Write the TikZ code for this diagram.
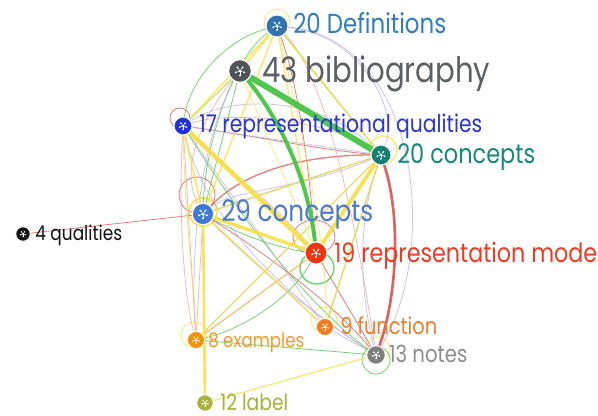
\documentclass[tikz,border=0pt]{standalone}
\usepackage{fontspec}
\usepackage{graphicx}
\setmainfont{Poppins}
\definecolor{ey}{HTML}{F8E04A}
\definecolor{eg}{HTML}{45C545}
\definecolor{er}{HTML}{D9534F}
\definecolor{ep}{HTML}{BFAEDD}
\definecolor{epk}{HTML}{E9A3A3}
\definecolor{cD}{HTML}{2F7DBF}
\definecolor{cB}{HTML}{5B6065}
\definecolor{cQa}{HTML}{2A35D8}
\definecolor{cCa}{HTML}{16887A}
\definecolor{cCb}{HTML}{4A7BD0}
\definecolor{cQb}{HTML}{111111}
\definecolor{cM}{HTML}{EE3B22}
\definecolor{cF}{HTML}{F07E2A}
\definecolor{cE}{HTML}{F39B2A}
\definecolor{cN}{HTML}{8C8C8C}
\definecolor{cL}{HTML}{A9B136}
\definecolor{nD}{HTML}{2E72B0}
\definecolor{nB}{HTML}{4E5357}
\definecolor{nQa}{HTML}{1F30E0}
\definecolor{nCa}{HTML}{138073}
\definecolor{nCb}{HTML}{3F79D2}
\definecolor{nQb}{HTML}{151515}
\definecolor{nM}{HTML}{F2330F}
\definecolor{nF}{HTML}{F57C18}
\definecolor{nE}{HTML}{F5900A}
\definecolor{nN}{HTML}{7F7F7F}
\definecolor{nL}{HTML}{A9B23A}
\newcommand{\lab}[2]{\scalebox{1}[1.2]{\resizebox{#1pt}{!}{#2}}}
\tikzset{
  vtx/.style={circle, draw=white, line width=0.8pt, inner sep=0pt},
  lbl/.style={anchor=base west, inner sep=0pt},
  thin edge/.style={line width=0.6pt, opacity=0.75},
  loopline/.style={line width=0.6pt, opacity=0.8},
  hub/.pic={
    \fill[white] (0,0) circle (1.2);
    \foreach \a in {90,162,234,306,18}{
      \draw[white, line width=0.4pt] (0,0) -- (\a:3.9);
      \fill[white] (\a:3.9) circle (0.95);
    }
  }
}
\begin{document}
\begin{tikzpicture}[x=0.75pt,y=-0.75pt]
\fill[white] (0,0) rectangle (598,416);
\useasboundingbox (0,0) rectangle (598,416);
% node positions
\coordinate (pD) at (277,26);
\coordinate (pB) at (240,71);
\coordinate (pQa) at (183,126);
\coordinate (pCa) at (381,155);
\coordinate (pCb) at (203,214);
\coordinate (pQb) at (23,234);
\coordinate (pM) at (316,253);
\coordinate (pF) at (325,327);
\coordinate (pE) at (196,340);
\coordinate (pN) at (376,355);
\coordinate (pL) at (205,403);
% nodes (drawn first for names, redrawn on top later)
\node[vtx, minimum size=16.5pt] (D) at (pD) {};
\node[vtx, minimum size=17pt] (B) at (pB) {};
\node[vtx, minimum size=13.5pt] (Qa) at (pQa) {};
\node[vtx, minimum size=15pt] (Ca) at (pCa) {};
\node[vtx, minimum size=16pt] (Cb) at (pCb) {};
\node[vtx, minimum size=11pt] (Qb) at (pQb) {};
\node[vtx, minimum size=16.5pt] (M) at (pM) {};
\node[vtx, minimum size=13pt] (F) at (pF) {};
\node[vtx, minimum size=13pt] (E) at (pE) {};
\node[vtx, minimum size=14pt] (N) at (pN) {};
\node[vtx, minimum size=12.5pt] (L) at (pL) {};
% self loops
\draw[loopline, ey] (277,22) circle (13);
\draw[loopline, er] (180,118) circle (10);
\draw[loopline, er] (197,195) circle (18);
\draw[line width=1.6pt, ey, opacity=0.8] (203,212) circle (14);
\draw[loopline, ey, line width=1pt] (383,150) circle (14);
\draw[loopline, er] (314,237) ellipse (21 and 17);
\draw[loopline, eg, line width=1pt] (317,268) ellipse (17 and 16);
\draw[loopline, ey] (194,335) circle (13);
\draw[loopline, ey] (324,320) circle (13);
\draw[loopline, ey] (378,349) circle (12);
\draw[loopline, eg] (376,360) circle (14);
% thin edges: green
\draw[thin edge, eg] (D) .. controls (225,40) and (190,80) .. (Qa);
\draw[thin edge, eg] (D) .. controls (230,60) and (205,150) .. (Cb);
\draw[thin edge, eg] (B) -- (Cb);
\draw[thin edge, eg] (B) -- (Qa);
\draw[thin edge, eg] (Qa) -- (M);
\draw[thin edge, eg] (Qa) .. controls (230,200) and (300,300) .. (N);
\draw[thin edge, eg] (M) .. controls (290,300) and (240,330) .. (E);
\draw[thin edge, eg] (E) -- (N);
\draw[thin edge, eg] (Ca) -- (Cb);
\draw[thin edge, eg] (D) -- (Ca);
\draw[thin edge, eg] (Ca) -- (F);
\draw[thin edge, eg] (Cb) .. controls (250,240) and (290,250) .. (M);
% thin edges: red
\draw[thin edge, er] (Qb) -- (Cb);
\draw[thin edge, er] (Qa) .. controls (250,135) and (320,150) .. (Ca);
\draw[thin edge, er, line width=1pt] (Cb) .. controls (250,165) and (320,155) .. (Ca);
\draw[thin edge, epk] (Qa) -- (E);
\draw[thin edge, epk] (Qa) .. controls (178,220) and (185,300) .. (E);
\draw[thin edge, epk] (Cb) -- (E);
\draw[thin edge, er] (E) -- (M);
\draw[thin edge, er] (M) -- (N);
\draw[thin edge, er] (D) .. controls (300,90) and (310,180) .. (M);
\draw[thin edge, epk] (D) .. controls (330,80) and (360,250) .. (N);
\draw[thin edge, epk] (Qa) .. controls (240,180) and (280,210) .. (M);
\draw[thin edge, er] (Cb) .. controls (260,250) and (330,300) .. (N);
\draw[thin edge, epk] (Qa) .. controls (230,110) and (330,120) .. (Ca);
\draw[thin edge, epk] (B) .. controls (200,120) and (180,170) .. (Cb);
% thin edges: purple
\draw[thin edge, ep] (D) .. controls (360,35) and (400,110) .. (Ca);
\draw[thin edge, ep] (D) .. controls (420,40) and (440,250) .. (N);
\draw[thin edge, ep] (Cb) .. controls (260,270) and (320,320) .. (N);
\draw[thin edge, ep] (F) -- (N);
\draw[thin edge, ep] (Ca) .. controls (355,230) and (362,300) .. (N);
\draw[thin edge, ep] (Ca) -- (Cb);
\draw[thin edge, ep] (Ca) .. controls (300,190) and (230,190) .. (Cb);
\draw[thin edge, ep] (Ca) -- (Qa);
\draw[thin edge, ep] (Cb) -- (F);
\draw[thin edge, ep] (Ca) -- (E);
\draw[thin edge, ep] (Qa) -- (F);
\draw[thin edge, ep] (Qa) .. controls (230,95) and (320,95) .. (Ca);
\draw[thin edge, ep] (Ca) -- (M);
\draw[thin edge, ep] (B) .. controls (200,140) and (190,250) .. (E);
\draw[thin edge, ep] (Qa) .. controls (200,200) and (260,280) .. (N);
% thin edges: yellow
\draw[thin edge, ey, line width=1pt] (L) -- (N);
\draw[thin edge, ey, line width=1pt] (Ca) -- (F);
\draw[thin edge, ey, line width=1.2pt] (Cb) -- (F);
\draw[thin edge, ey, line width=1pt] (E) -- (Ca);
\draw[thin edge, ey] (E) -- (M);
\draw[thin edge, ey, line width=1.2pt] (D) -- (Qa);
\draw[thin edge, ey, line width=1.2pt] (D) -- (Cb);
\draw[thin edge, ey, line width=1pt] (D) -- (M);
\draw[thin edge, ey, line width=1.2pt] (D) -- (Ca);
\draw[thin edge, ey, line width=1.5pt] (D) -- (B);
\draw[thin edge, ey] (D) .. controls (300,120) and (330,260) .. (F);
\draw[thin edge, ey, line width=1pt] (Cb) -- (Ca);
\draw[thin edge, ey] (B) -- (M);
\draw[thin edge, ey, line width=1.5pt] (Qa) -- (Cb);
\draw[thin edge, ey] (Qa) .. controls (185,220) and (195,300) .. (E);
\draw[thin edge, ey] (B) -- (Qa);
% thick edges
\draw[ey, line width=2pt, opacity=0.9] (Cb) -- (L);
\draw[ey, line width=2.6pt, opacity=0.9] (Cb) -- (M);
\draw[ey, line width=3.6pt, opacity=0.9] (Qa) -- (M);
\draw[ey, line width=3pt, opacity=0.9] (Ca) -- (M);
\draw[er, line width=2pt, opacity=0.9] (Ca) .. controls (402,220) and (396,300) .. (N);
\draw[eg, line width=3pt, opacity=0.95] (B) .. controls (285,125) and (310,190) .. (M);
\draw[eg, line width=4.5pt, opacity=0.95] (B) -- (Ca);
% nodes on top
\foreach \n/\c/\s/\k in {D/nD/16.5/1.05, B/nB/17/1.15, Qa/nQa/13.5/0.9, Ca/nCa/15/1, Cb/nCb/16/1.1, Qb/nQb/11/0.7, M/nM/16.5/1.05, F/nF/13/0.85, E/nE/13/0.85, N/nN/14/0.9, L/nL/12.5/0.8}{
  \node[vtx, fill=\c, minimum size=\s pt] at (\n.center) {};
  \pic[scale=\k] at (\n.center) {hub};
}
% labels
\node[lbl, text=cD] (lD) at (293,34) {\lab{114.75}{20 Definitions}};
\node[lbl, text=cB] (lB) at (262,83) {\lab{171}{43 bibliography}};
\node[lbl, text=cQa] (lQa) at (199,133) {\lab{212.25}{17 representational qualities}};
\node[lbl, text=cCa] (lCa) at (397,164) {\lab{103.5}{20 concepts}};
\node[lbl, text=cCb] (lCb) at (221,222) {\lab{114}{29 concepts}};
\node[lbl, text=cQb] (lQb) at (35,240) {\lab{65.25}{4 qualities}};
\node[lbl, text=cM] (lM) at (334,262) {\lab{197.25}{19 representation mode}};
\node[lbl, text=cF] (lF) at (340,334) {\lab{72.75}{9 function}};
\node[lbl, text=cE] (lE) at (208,347) {\lab{72}{8 examples}};
\node[lbl, text=cN] (lN) at (389,362) {\lab{58.5}{13 notes}};
\node[lbl, text=cL] (lL) at (220,410) {\lab{51}{12 label}};
\end{tikzpicture}
\end{document}
